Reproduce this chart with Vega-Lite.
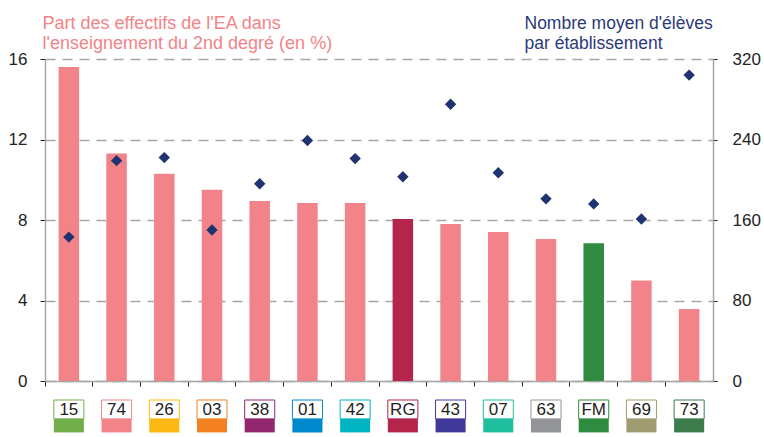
{
  "$schema": "https://vega.github.io/schema/vega-lite/v6.json",
  "padding": {"left": 8, "top": 14, "right": 0, "bottom": 0},
  "config": {
    "view": {"stroke": null},
    "font": "Liberation Sans",
    "axis": {"labelFont": "Liberation Sans", "titleFont": "Liberation Sans", "labelFontSize": 17, "labelColor": "#222222", "domainColor": "#A6A6A6", "domainWidth": 1.5, "tickColor": "#222222"}
  },
  "data": {
    "values": [
      {"code": "15", "part": 15.6, "eleves": 143, "type": "dep"},
      {"code": "74", "part": 11.3, "eleves": 219, "type": "dep"},
      {"code": "26", "part": 10.3, "eleves": 222, "type": "dep"},
      {"code": "03", "part": 9.5, "eleves": 150, "type": "dep"},
      {"code": "38", "part": 8.95, "eleves": 196, "type": "dep"},
      {"code": "01", "part": 8.85, "eleves": 239, "type": "dep"},
      {"code": "42", "part": 8.85, "eleves": 221, "type": "dep"},
      {"code": "RG", "part": 8.05, "eleves": 203, "type": "RG"},
      {"code": "43", "part": 7.8, "eleves": 275, "type": "dep"},
      {"code": "07", "part": 7.4, "eleves": 207, "type": "dep"},
      {"code": "63", "part": 7.05, "eleves": 181, "type": "dep"},
      {"code": "FM", "part": 6.85, "eleves": 176, "type": "FM"},
      {"code": "69", "part": 5.0, "eleves": 161, "type": "dep"},
      {"code": "73", "part": 3.58, "eleves": 304, "type": "dep"}
    ]
  },
  "spacing": 10,
  "resolve": {"scale": {"color": "independent", "stroke": "independent", "y": "independent"}},
  "vconcat": [
    {
      "width": 668,
      "height": 322,
      "layer": [
        {
          "mark": {"type": "bar", "width": {"band": 0.43}},
          "encoding": {
            "x": {"field": "code", "type": "nominal", "sort": null, "scale": {"paddingInner": 0, "paddingOuter": 0},
              "axis": {"labels": false, "title": null, "bandPosition": 0, "tickSize": 5, "grid": false, "minExtent": 0, "maxExtent": 5}},
            "y": {"field": "part", "type": "quantitative", "scale": {"domain": [0, 16]},
              "axis": {"values": [0, 4, 8, 12, 16], "tickSize": 5, "labelPadding": 13,
                "title": ["Part des effectifs de l'EA dans", "l'enseignement du 2nd degré (en %)"],
                "titleAngle": 0, "titleAlign": "left", "titleBaseline": "alphabetic", "titleX": -3, "titleY": -31,
                "titleColor": "#F28489", "titleFontSize": 18, "titleFontWeight": "normal", "titleLineHeight": 20,
                "grid": true, "gridDash": [10, 7], "gridColor": "#A6A6A6", "gridWidth": 1.5}},
            "color": {"field": "type", "type": "nominal", "scale": {"domain": ["dep", "RG", "FM"], "range": ["#F28489", "#B5244A", "#2E8B3F"]}, "legend": null}
          }
        },
        {
          "mark": {"type": "point", "shape": "diamond", "filled": true, "size": 130, "color": "#1F3370", "opacity": 1},
          "encoding": {
            "x": {"field": "code", "type": "nominal", "sort": null},
            "y": {"field": "eleves", "type": "quantitative", "scale": {"domain": [0, 320]},
              "axis": {"orient": "right", "values": [0, 80, 160, 240, 320], "grid": false, "tickSize": 4, "labelPadding": 15,
                "title": ["Nombre moyen d'élèves", "par établissement"],
                "titleAngle": 0, "titleAlign": "left", "titleBaseline": "alphabetic", "titleX": -189, "titleY": -31,
                "titleColor": "#2B3A7A", "titleFontSize": 17.5, "titleFontWeight": "normal", "titleLineHeight": 20}}
          }
        }
      ],
      "resolve": {"scale": {"y": "independent"}}
    },
    {
      "width": 668,
      "height": 36,
      "layer": [
        {
          "mark": {"type": "bar", "width": {"band": 0.63}, "fill": "white", "strokeWidth": 1},
          "encoding": {
            "x": {"field": "code", "type": "nominal", "sort": null, "scale": {"paddingInner": 0, "paddingOuter": 0}, "axis": null},
            "y": {"datum": 0, "type": "quantitative", "scale": {"domain": [0, 36], "reverse": true}, "axis": null},
            "y2": {"datum": 21},
            "stroke": {"field": "code", "type": "nominal", "sort": null, "legend": null,
              "scale": {"domain": ["15", "74", "26", "03", "38", "01", "42", "RG", "43", "07", "63", "FM", "69", "73"],
                "range": ["#72AF4A", "#F28489", "#FDB913", "#F58220", "#93276F", "#0088CE", "#00B5C1", "#B5244A", "#41399A", "#1FBF9E", "#939598", "#2E8B3F", "#A09C72", "#3D7A4C"]}}
          }
        },
        {
          "mark": {"type": "bar", "width": {"band": 0.63}},
          "encoding": {
            "x": {"field": "code", "type": "nominal", "sort": null},
            "y": {"datum": 21, "type": "quantitative"},
            "y2": {"datum": 36},
            "color": {"field": "code", "type": "nominal", "sort": null, "legend": null,
              "scale": {"domain": ["15", "74", "26", "03", "38", "01", "42", "RG", "43", "07", "63", "FM", "69", "73"],
                "range": ["#72AF4A", "#F28489", "#FDB913", "#F58220", "#93276F", "#0088CE", "#00B5C1", "#B5244A", "#41399A", "#1FBF9E", "#939598", "#2E8B3F", "#A09C72", "#3D7A4C"]}}
          }
        },
        {
          "mark": {"type": "text", "fontSize": 17, "color": "#222222", "baseline": "middle", "dy": 1},
          "encoding": {
            "x": {"field": "code", "type": "nominal", "sort": null},
            "y": {"datum": 10.5, "type": "quantitative"},
            "text": {"field": "code"}
          }
        }
      ]
    }
  ]
}
